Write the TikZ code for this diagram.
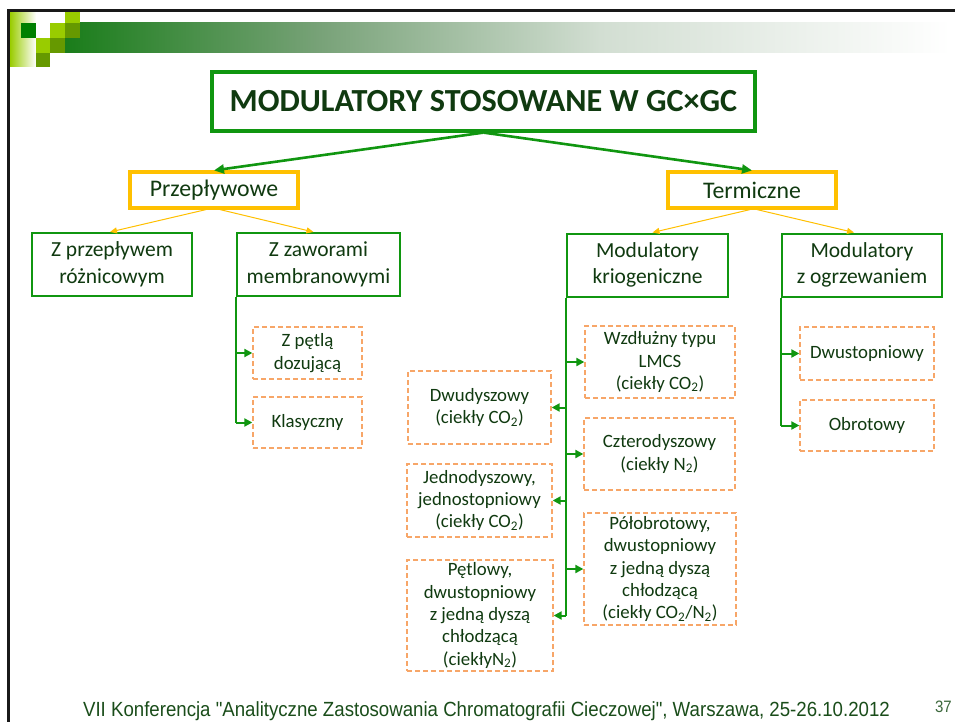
\documentclass[tikz,border=0pt]{standalone}
\usepackage{fontspec}
\setmainfont{Carlito}
\newfontfamily\footfont{Liberation Sans}[FakeStretch=0.91]
\usetikzlibrary{arrows.meta,calc}

\definecolor{framegreen}{RGB}{16,150,16}
\definecolor{textgreen}{RGB}{16,58,16}
\definecolor{footgreen}{RGB}{26,77,26}
\definecolor{boxyellow}{RGB}{255,192,0}
\definecolor{dashorange}{RGB}{247,166,104}
\definecolor{limegreen}{RGB}{153,204,0}
\definecolor{olivegreen}{RGB}{102,153,0}
\definecolor{darkgreen}{RGB}{0,128,0}
\definecolor{bandA}{RGB}{26,125,26}
\definecolor{bandB}{RGB}{120,162,120}
\definecolor{bandC}{RGB}{210,222,210}

\tikzset{
  titlebox/.style={draw=framegreen, line width=3.2pt, inner sep=0pt,
    text=textgreen, font=\bfseries\fontsize{32.2}{38}\selectfont},
  groupbox/.style={draw=boxyellow, line width=3.2pt, inner sep=0pt,
    minimum width=168pt, minimum height=36pt,
    text=textgreen, font=\fontsize{23.8}{28}\selectfont},
  kindbox/.style={draw=framegreen, line width=2pt, inner sep=0pt, align=center,
    minimum height=63pt,
    text=textgreen, font=\fontsize{21.5}{26.7}\selectfont},
  leafbox/.style={draw=dashorange, line width=1.3pt, dash pattern=on 5pt off 3pt,
    inner sep=0pt, align=center,
    text=textgreen, font=\fontsize{18.8}{22.3}\selectfont},
  mainarrow/.style={draw=framegreen, line width=2.6pt,
    -{Triangle[length=10pt,width=9pt]}},
  subarrow/.style={draw=boxyellow, line width=1pt,
    -{Triangle[length=7pt,width=6pt]}},
  treeline/.style={draw=framegreen, line width=2pt},
  treearrow/.style={draw=framegreen, line width=2pt,
    -{Triangle[length=8pt,width=8pt]}},
}

\begin{document}
\begin{tikzpicture}[x=1pt,y=-1pt]
\useasboundingbox (0,0) rectangle (955,722);
\fill[white] (0,0) rectangle (955,722);

% header band with its fading gradient
\shade[left color=limegreen, right color=white] (10,12) rectangle (36,67);
\shade[left color=bandA, right color=bandB] (65,23) rectangle (320,53);
\shade[left color=bandB, right color=bandC] (319.5,23) rectangle (600,53);
\shade[left color=bandC, right color=white] (599.5,23) rectangle (950,53);
% checker squares
\fill[limegreen]  (65,12) rectangle (80,23);
\fill[darkgreen]  (21,23) rectangle (36,38);
\fill[limegreen]  (50,23) rectangle (65,38);
\fill[olivegreen] (65,23) rectangle (80,38);
\fill[limegreen]  (36,38) rectangle (50,53);
\fill[olivegreen] (50,38) rectangle (65,53);
\fill[olivegreen] (36,53) rectangle (50,67);

% slide frame
\draw[line width=3pt, black!90] (8.5,722) -- (8.5,10.5) -- (955,10.5);

% title and the two groups
\node[titlebox, minimum width=543pt, minimum height=59pt] (title) at (483.5,101.5)
  {MODULATORY STOSOWANE W GC×GC};
\node[groupbox] (prz) at (214,190) {Przepływowe};
\node[groupbox] (ter) at (752,190) {Termiczne};

\draw[mainarrow] (title.south) -- (prz.north);
\draw[mainarrow] (title.south) -- (ter.north);

% kinds of modulators
\node[kindbox, minimum width=160pt] (zp)  at (112,264.5)   {Z przepływem\\różnicowym};
\node[kindbox, minimum width=163pt] (zz)  at (318.5,264.5) {Z zaworami\\membranowymi};
\node[kindbox, minimum width=161pt] (kri) at (647.5,265)   {Modulatory\\kriogeniczne};
\node[kindbox, minimum width=160pt] (ogr) at (862,265)     {Modulatory\\z ogrzewaniem};

\draw[subarrow] ([xshift=-8pt]prz.south) -- ([xshift=-2pt]zp.north);
\draw[subarrow] ([xshift=6pt]prz.south)  -- ([xshift=-5pt]zz.north);
\draw[subarrow] ([xshift=-2pt]ter.south) -- ([xshift=5pt]kri.north);
\draw[subarrow] ([xshift=5pt]ter.south)  -- ([xshift=-8pt]ogr.north);

% valve-based modulators
\node[leafbox, minimum width=109pt, minimum height=52pt] (petla) at (307.5,353)   {Z pętlą\\dozującą};
\node[leafbox, minimum width=109pt, minimum height=51pt] (klas)  at (307.5,422.5) {Klasyczny};

\draw[treeline] (zz.south west) -- (zz.south west |- klas.west);
\draw[treearrow] (zz.south west |- petla.west) -- (petla.west);
\draw[treearrow] (zz.south west |- klas.west) -- (klas.west);

% cryogenic modulators
\node[leafbox, minimum width=150pt, minimum height=72pt]  (wzd)  at (660,362)     {Wzdłużny typu\\LMCS\\(ciekły CO\textsubscript{2})};
\node[leafbox, minimum width=151pt, minimum height=72pt]  (czt)  at (659.5,454)   {Czterodyszowy\\(ciekły N\textsubscript{2})};
\node[leafbox, minimum width=152pt, minimum height=112pt] (polo) at (660,569)     {Półobrotowy,\\dwustopniowy\\z jedną dyszą\\chłodzącą\\(ciekły CO\textsubscript{2}/N\textsubscript{2})};
\node[leafbox, minimum width=143pt, minimum height=73pt]  (dwu)  at (479.5,407.5) {Dwudyszowy\\(ciekły CO\textsubscript{2})};
\node[leafbox, minimum width=145pt, minimum height=73pt]  (jed)  at (479.5,500.5) {Jednodyszowy,\\jednostopniowy\\(ciekły CO\textsubscript{2})};
\node[leafbox, minimum width=146pt, minimum height=111pt] (pet)  at (480,615.5)   {Pętlowy,\\dwustopniowy\\z jedną dyszą\\chłodzącą\\(ciekłyN\textsubscript{2})};

\draw[treeline] (kri.south west) -- (kri.south west |- pet.east);
\draw[treearrow] (kri.south west |- wzd.west)  -- (wzd.west);
\draw[treearrow] (kri.south west |- dwu.east)  -- (dwu.east);
\draw[treearrow] (kri.south west |- czt.west)  -- (czt.west);
\draw[treearrow] (kri.south west |- jed.east)  -- (jed.east);
\draw[treearrow] (kri.south west |- polo.west) -- (polo.west);
\draw[treearrow] (kri.south west |- pet.east)  -- (pet.east);

% heated modulators
\node[leafbox, minimum width=134pt, minimum height=53pt] (dws) at (867,353.5) {Dwustopniowy};
\node[leafbox, minimum width=134pt, minimum height=51pt] (obr) at (867,425.5) {Obrotowy};

\draw[treeline] (ogr.south west) -- (ogr.south west |- obr.west);
\draw[treearrow] (ogr.south west |- dws.west) -- (dws.west);
\draw[treearrow] (ogr.south west |- obr.west) -- (obr.west);

% footer
\node[anchor=base, inner sep=0pt, text=footgreen, font=\footfont\fontsize{20.5}{23}\selectfont]
  (foot) at (486.5,716.5) {VII Konferencja "Analityczne Zastosowania Chromatografii Cieczowej", Warszawa, 25-26.10.2012};
\node[anchor=base east, inner sep=0pt, text=footgreen!85!white, font=\footfont\fontsize{16.5}{18}\selectfont]
  (page) at (952,712) {37};
\end{tikzpicture}
\end{document}
